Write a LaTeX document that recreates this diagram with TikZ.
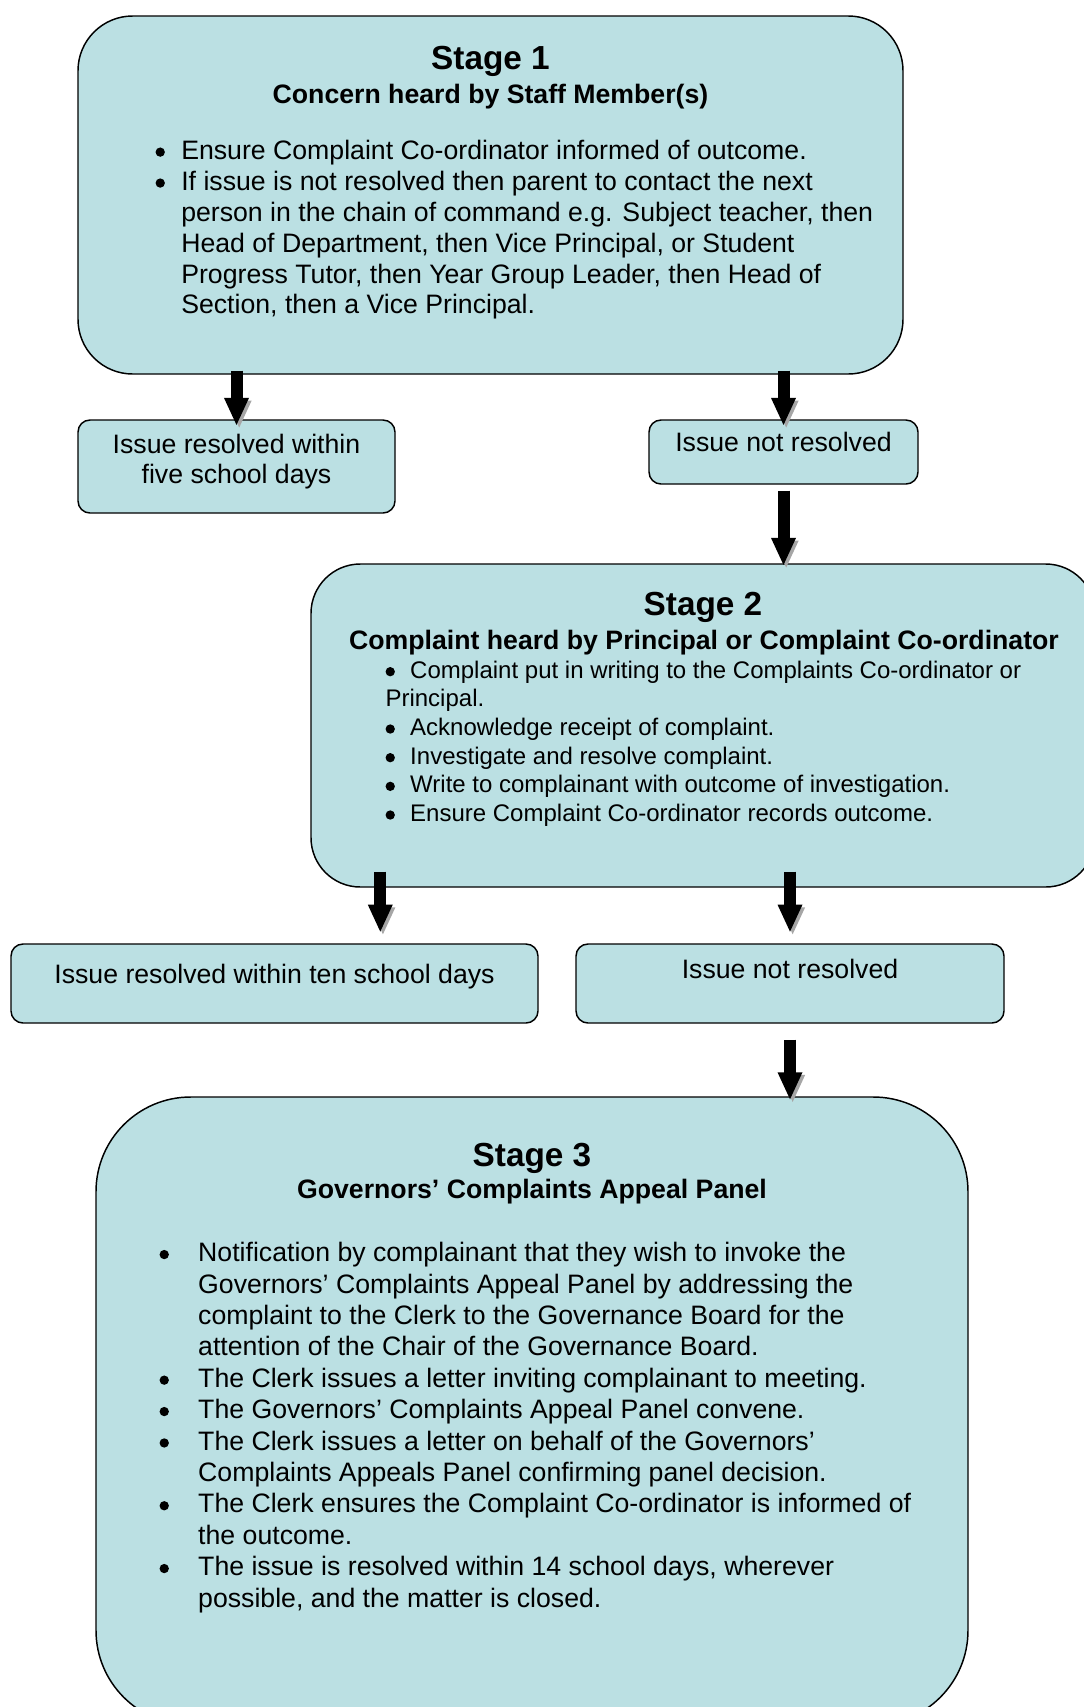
\documentclass[tikz,border=0pt]{standalone}
\usepackage{fontspec}
\setmainfont{Liberation Sans}
\usetikzlibrary{arrows.meta,fit,calc}

\definecolor{panel}{RGB}{187,224,227}

\newcommand{\bigdot}{\tikz[x=1pt,y=1pt,baseline=-0.27em]\fill (0,0) circle[radius=3.5];}

\tikzset{
  stagebox/.style={draw, line width=1.1pt, fill=panel, inner sep=0pt},
  smallbox/.style={draw, line width=1.1pt, fill=panel, inner sep=0pt, rounded corners=9pt},
  bigarrow/.style={line width=9pt, -{Triangle[width=17pt,length=21pt]},
    preaction={draw=gray!70, transform canvas={shift={(2pt,-2pt)}}}},
  heading/.style={font=\fontsize{25pt}{30pt}\selectfont\bfseries, inner sep=0pt, anchor=base},
  subheading/.style={font=\fontsize{20pt}{24pt}\selectfont\bfseries, inner sep=0pt, anchor=base},
  boxtext/.style={font=\fontsize{20pt}{22.9pt}\selectfont, inner sep=0pt, align=center},
  listtext/.style={inner sep=0pt, anchor=north west},
}

\begin{document}
\begin{tikzpicture}[x=0.75pt,y=-0.75pt]

    \useasboundingbox (0,0) rectangle (1084,1707);

    \node[stagebox, rounded corners=41pt, fit={(78,16) (903,374)}] (stageA) {};
    \node[stagebox, rounded corners=37pt, fit={(311,564) (1095,887)}] (stageB) {};
    \node[stagebox, rounded corners=71pt, fit={(96,1097) (968,1725)}] (stageC) {};

    \node[smallbox, fit={(78,420) (395,513)}] (resA) {};
    \node[smallbox, fit={(649,420) (918,484)}] (notA) {};
    \node[smallbox, fit={(11,944) (538,1023)}] (resB) {};
    \node[smallbox, fit={(576,944) (1004,1023)}] (notB) {};

    \node[heading] (titleA) at (490.5,69.5) {Stage 1};
    \node[subheading] (subA) at (490.5,103) {Concern heard by Staff Member(s)};
    \node[listtext, font=\fontsize{20pt}{23.2pt}\selectfont] (listA) at (155.3,137.4)
      {\begin{tabular}{@{}l@{\hspace{12.3pt}}l@{}}
       \bigdot & Ensure Complaint Co-ordinator informed of outcome.\\
       \bigdot & If issue is not resolved then parent to contact the next\\
               & person in the chain of command e.g. Subject teacher, then\\
               & Head of Department, then Vice Principal, or Student\\
               & Progress Tutor, then Year Group Leader, then Head of\\
               & Section, then a Vice Principal.
       \end{tabular}};

    \node[heading] (titleB) at (703,615) {Stage 2};
    \node[subheading] (subB) at (704,649) {Complaint heard by Principal or Complaint Co-ordinator};
    \node[listtext, align=left, font=\fontsize{18pt}{21.5pt}\selectfont] (listB) at (385.3,660.5)
      {\bigdot\hspace{11.5pt}Complaint put in writing to the Complaints Co-ordinator or\\
       Principal.\\
       \bigdot\hspace{11.5pt}Acknowledge receipt of complaint.\\
       \bigdot\hspace{11.5pt}Investigate and resolve complaint.\\
       \bigdot\hspace{11.5pt}Write to complainant with outcome of investigation.\\
       \bigdot\hspace{11.5pt}Ensure Complaint Co-ordinator records outcome.};

    \node[heading] (titleC) at (532,1166) {Stage 3};
    \node[subheading] (subC) at (532,1198) {Governors’ Complaints Appeal Panel};
    \node[listtext, font=\fontsize{20pt}{23.55pt}\selectfont] (listC) at (159.3,1239.5)
      {\begin{tabular}{@{}l@{\hspace{22pt}}l@{}}
       \bigdot & Notification by complainant that they wish to invoke the\\
               & Governors’ Complaints Appeal Panel by addressing the\\
               & complaint to the Clerk to the Governance Board for the\\
               & attention of the Chair of the Governance Board.\\
       \bigdot & The Clerk issues a letter inviting complainant to meeting.\\
       \bigdot & The Governors’ Complaints Appeal Panel convene.\\
       \bigdot & The Clerk issues a letter on behalf of the Governors’\\
               & Complaints Appeals Panel confirming panel decision.\\
       \bigdot & The Clerk ensures the Complaint Co-ordinator is informed of\\
               & the outcome.\\
       \bigdot & The issue is resolved within 14 school days, wherever\\
               & possible, and the matter is closed.
       \end{tabular}};

    \node[boxtext, anchor=north] (textA) at (236.5,433.6) {Issue resolved within\\five school days};
    \node[boxtext, anchor=base] (textB) at (783.5,451) {Issue not resolved};
    \node[boxtext, anchor=base] (textC) at (274.5,983) {Issue resolved within ten school days};
    \node[boxtext, anchor=base] (textD) at (790,978) {Issue not resolved};

    \coordinate (splitB) at ($(stageB.south west)+(70,0)$);

    \draw[bigarrow, shorten <=-3pt, shorten >=-5pt] (stageA.south -| resA.north) -- (resA.north);
    \draw[bigarrow, shorten <=-3pt, shorten >=-5pt] (stageA.south -| notA.north) -- (notA.north);
    \draw[bigarrow, shorten <=4.5pt, shorten >=-2pt] (notA.south) -- (notA.south |- stageB.north);
    \draw[bigarrow, shorten <=-12pt, shorten >=8pt] (splitB) -- (splitB |- resB.north);
    \draw[bigarrow, shorten <=-12pt, shorten >=8pt] (stageB.south -| notB.north) -- (notB.north);
    \draw[bigarrow, shorten <=12pt, shorten >=-3pt] (notB.south) -- (notB.south |- stageC.north);

\end{tikzpicture}
\end{document}
